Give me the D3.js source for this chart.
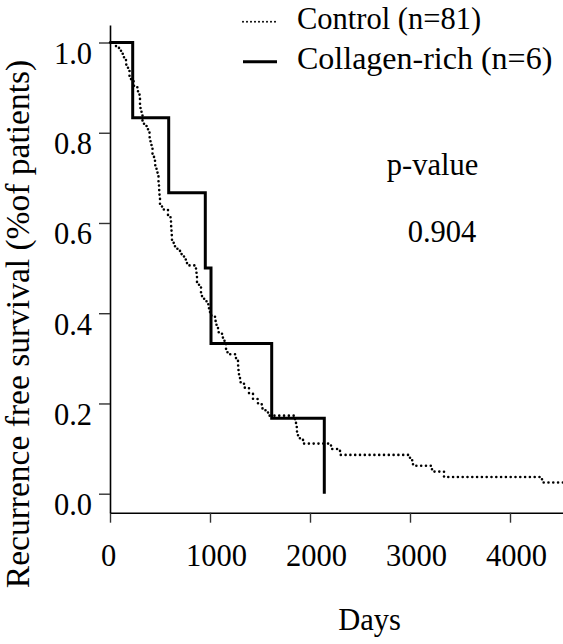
<!DOCTYPE html>
<html>
<head>
<meta charset="utf-8">
<script src="https://cdn.jsdelivr.net/npm/d3@7"></script>
<style>
  body { margin: 0; background: #fff; }
</style>
</head>
<body>
<svg width="563" height="644"></svg>
<script>
// Kaplan-Meier steps (day, survival after that day)
let controlDays = [0, 60, 110, 140, 160, 180, 195, 210, 240, 280, 295, 300, 305, 315, 325, 340,
    380, 395, 405, 415, 425, 440, 450, 465, 475, 485, 490, 492, 495, 500, 520, 580, 605, 610,
    615, 618, 620, 650, 700, 740, 770, 860, 865, 870, 890, 910, 920, 965, 990, 1000, 1050,
    1065, 1080, 1120, 1145, 1160, 1175, 1260, 1280, 1285, 1290, 1300, 1340, 1390, 1430, 1480,
    1525, 1580, 1850, 1860, 1870, 1880, 1930, 2210, 2300, 3000, 3030, 3220, 3340, 4320, 4530];
let controlSurv = [1.0, 0.988, 0.975, 0.963, 0.951, 0.938, 0.926, 0.914, 0.901, 0.889, 0.877,
    0.864, 0.852, 0.840, 0.827, 0.815, 0.802, 0.790, 0.778, 0.765, 0.753, 0.741, 0.728, 0.716,
    0.704, 0.691, 0.679, 0.667, 0.654, 0.642, 0.630, 0.617, 0.605, 0.593, 0.580, 0.568, 0.556,
    0.543, 0.531, 0.519, 0.506, 0.494, 0.481, 0.469, 0.457, 0.444, 0.432, 0.420, 0.407, 0.395,
    0.383, 0.370, 0.358, 0.346, 0.333, 0.321, 0.309, 0.296, 0.284, 0.272, 0.259, 0.247, 0.235,
    0.222, 0.210, 0.198, 0.185, 0.173, 0.160, 0.148, 0.136, 0.123, 0.111, 0.099, 0.086, 0.074,
    0.062, 0.049, 0.037, 0.025, 0.025];

let collagenDays = [0, 227, 587, 953, 1010, 1617, 2143];
let collagenSurv = [1.0, 0.833, 0.667, 0.5, 0.333, 0.167, 0.0];

let xTicks = [0, 1000, 2000, 3000, 4000];
let yTicks = [0.0, 0.2, 0.4, 0.6, 0.8, 1.0];
let legendLabels = ["Control (n=81)", "Collagen-rich (n=6)"];
let pLabel = "p-value";
let pValue = "0.904";

let svg = d3.select("svg");

let x = d3.scaleLinear().domain([0, 4530]).range([110, 563]);
let y = d3.scaleLinear().domain([-0.0421, 1.0388]).range([512.7, 25]);

// axes
let xAxis = svg.append("g")
    .attr("transform", "translate(0,512.7)")
    .call(d3.axisBottom(x).tickValues(xTicks).tickSize(10).tickSizeOuter(0).tickFormat(d3.format("d")));
xAxis.selectAll("text")
    .attr("y", 53)
    .attr("dy", 0)
    .attr("dx", function (d) { return d === 0 ? -2 : 6; });

let yAxis = svg.append("g")
    .attr("transform", "translate(110,0)")
    .call(d3.axisLeft(y).tickValues(yTicks).tickSize(11).tickSizeOuter(0).tickFormat(d3.format(".1f")));
yAxis.selectAll("text")
    .attr("x", -18)
    .attr("y", 21)
    .attr("dy", 0);

svg.selectAll(".domain").attr("stroke", "#000").attr("stroke-width", 1.6);
svg.selectAll(".tick line").attr("stroke", "#333").attr("stroke-width", 1.4);

// curves
let line = d3.line()
    .x(function (d) { return x(d[0]); })
    .y(function (d) { return y(d[1]); })
    .curve(d3.curveStepAfter);

let controlData = d3.zip(controlDays, controlSurv);
let collagenData = d3.zip(collagenDays, collagenSurv);

svg.append("path")
    .attr("d", line(controlData))
    .attr("fill", "none")
    .attr("stroke", "#000")
    .attr("stroke-width", 2.6)
    .attr("stroke-linecap", "round")
    .attr("stroke-dasharray", "0 4.8");

svg.append("path")
    .attr("d", line(collagenData))
    .attr("fill", "none")
    .attr("stroke", "#000")
    .attr("stroke-width", 3);

// legend
let legend = svg.append("g");
legend.selectAll("line")
    .data(legendLabels)
    .join("line")
    .attr("x1", 243).attr("x2", 277)
    .attr("y1", function (d, i) { return 21.7 + i * 40; })
    .attr("y2", function (d, i) { return 21.7 + i * 40; })
    .attr("stroke", "#000")
    .attr("stroke-width", function (d, i) { return i === 0 ? 2 : 3; })
    .attr("stroke-linecap", function (d, i) { return i === 0 ? "round" : "butt"; })
    .attr("stroke-dasharray", function (d, i) { return i === 0 ? "0 4" : null; });
legend.selectAll("text")
    .data(legendLabels)
    .join("text")
    .attr("class", function (d, i) { return "leg" + i; })
    .attr("x", 297)
    .attr("y", function (d, i) { return 29 + i * 40; })
    .text(function (d) { return d; });

// p-value
svg.append("text")
    .attr("x", 432.5).attr("y", 175)
    .attr("text-anchor", "middle")
    .text(pLabel);
svg.append("text")
    .attr("x", 442).attr("y", 241.5)
    .attr("text-anchor", "middle")
    .text(pValue);

// axis titles
svg.append("text")
    .attr("x", 369.5).attr("y", 630)
    .attr("text-anchor", "middle")
    .text("Days");
svg.append("text")
    .attr("class", "ytitle")
    .attr("transform", "translate(29,324) rotate(-90)")
    .attr("text-anchor", "middle")
    .text("Recurrence free survival (%of patients)");

svg.selectAll("g").attr("font-family", null);
svg.selectAll("text")
    .style("font-family", "'Liberation Serif'")
    .style("font-size", "30.5px")
    .attr("fill", "#000");
svg.select(".leg1").style("font-size", "32px");
svg.select(".ytitle").style("font-size", "33.5px");
</script>
</body>
</html>
